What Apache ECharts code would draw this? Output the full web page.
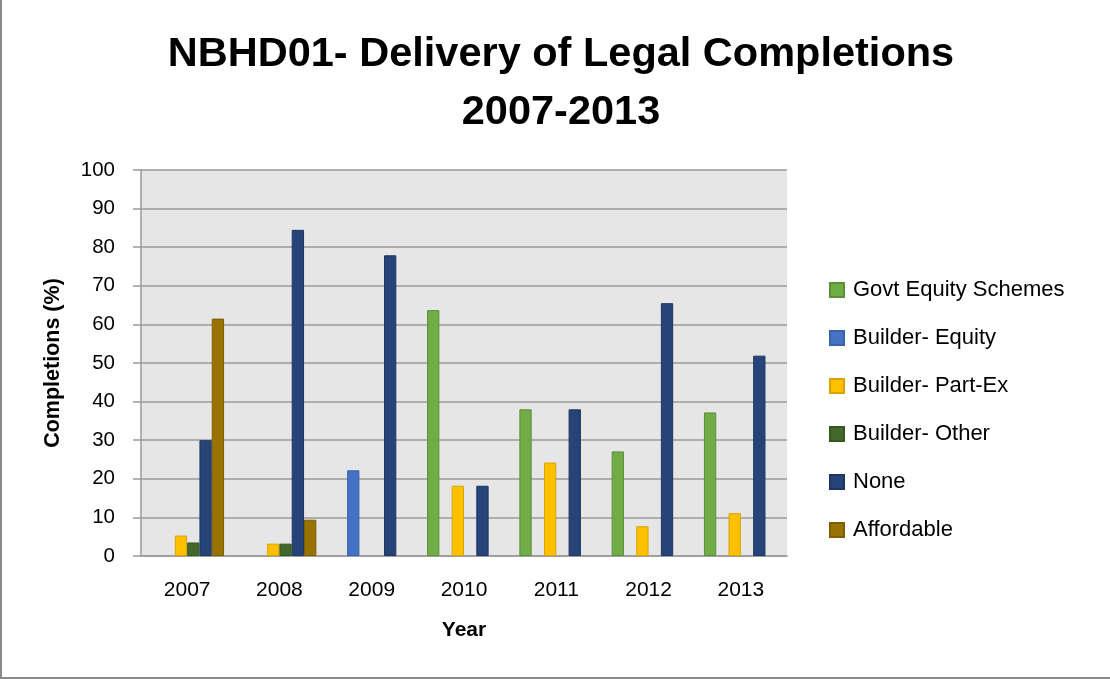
<!DOCTYPE html>
<html>
<head>
<meta charset="utf-8">
<script src="https://cdn.jsdelivr.net/npm/echarts@6/dist/echarts.min.js"></script>
<style>
  html, body { margin: 0; padding: 0; background: #fff; }
  #frame { position: absolute; left: 0; top: 0; width: 1110px; height: 679px; box-sizing: border-box;
           border-left: 2px solid #8a8a8a; border-bottom: 2px solid #8a8a8a; }
  #chart { position: absolute; left: 0; top: 0; width: 1110px; height: 679px; }
</style>
</head>
<body>
<div id="chart"></div>
<div id="frame"></div>
<script>
// Years on the category axis
const years = ['2007', '2008', '2009', '2010', '2011', '2012', '2013'];

// Share of legal completions (%) by delivery route
const govtEquity   = [null, null, null, 63.7, 38.0, 27.1, 37.2];
const builderEquity = [null, null, 22.2, null, null, null, null];
const builderPartEx = [5.3, 3.2, null, 18.2, 24.2, 7.7, 11.1];
const builderOther  = [3.5, 3.2, null, null, null, null, null];
const noneRoute     = [30.0, 84.5, 77.9, 18.2, 38.0, 65.5, 51.9];
const affordable    = [61.5, 9.4, null, null, null, null, null];

const seriesNames = ['Govt Equity Schemes', 'Builder- Equity', 'Builder- Part-Ex', 'Builder- Other', 'None', 'Affordable'];
const seriesData = [govtEquity, builderEquity, builderPartEx, builderOther, noneRoute, affordable];
const fills = ['#70ad47', '#4472c4', '#ffc000', '#43682b', '#264478', '#997300'];
const edges = ['#5c8f3a', '#3a62a8', '#d9a300', '#38581f', '#1d3560', '#7d5e00'];

const FONT = 'Liberation Sans';

const chart = echarts.init(document.getElementById('chart'), null, { renderer: 'canvas' });

chart.setOption({
  animation: false,
  backgroundColor: '#ffffff',
  textStyle: { fontFamily: FONT },
  title: {
    text: 'NBHD01- Delivery of Legal Completions\n2007-2013',
    left: 556,
    top: 21,
    textAlign: 'center',
    textStyle: { fontFamily: FONT, fontWeight: 'bold', fontSize: 41.5, lineHeight: 58, color: '#000' }
  },
  legend: {
    orient: 'vertical',
    left: 824,
    top: 274,
    itemWidth: 14,
    itemHeight: 14,
    itemGap: 26,
    icon: 'rect',
    textStyle: { fontFamily: FONT, fontSize: 22, color: '#000', padding: [0, 0, 0, 4] },
    data: seriesNames
  },
  grid: { left: 141, right: 323, top: 170, bottom: 123, backgroundColor: '#e6e6e6', show: true, borderWidth: 0 },
  xAxis: {
    type: 'category',
    data: years,
    name: 'Year',
    nameLocation: 'middle',
    nameGap: 64,
    nameTextStyle: { fontFamily: FONT, fontWeight: 'bold', fontSize: 21, color: '#000' },
    axisLine: { lineStyle: { color: '#9a9a9a', width: 1.5 } },
    axisTick: { show: false },
    axisLabel: { fontFamily: FONT, fontSize: 21, color: '#000', margin: 24 }
  },
  yAxis: {
    type: 'value',
    min: 0,
    max: 100,
    interval: 10,
    name: 'Completions (%)',
    nameLocation: 'middle',
    nameGap: 77,
    nameTextStyle: { fontFamily: FONT, fontWeight: 'bold', fontSize: 21.5, color: '#000' },
    axisLine: { show: true, lineStyle: { color: '#9a9a9a', width: 1.5 } },
    axisTick: { show: true, inside: false, length: 8, lineStyle: { color: '#9a9a9a', width: 1.5 } },
    axisLabel: { fontFamily: FONT, fontSize: 20.5, color: '#000', margin: 26 },
    splitLine: { lineStyle: { color: '#9a9a9a', width: 1.5 } }
  },
  series: seriesNames.map((name, i) => ({
    name: name,
    type: 'bar',
    data: seriesData[i],
    barGap: '0%',
    barCategoryGap: '20%',
    itemStyle: { color: fills[i], borderColor: edges[i], borderWidth: 1 }
  }))
});
</script>
</body>
</html>
